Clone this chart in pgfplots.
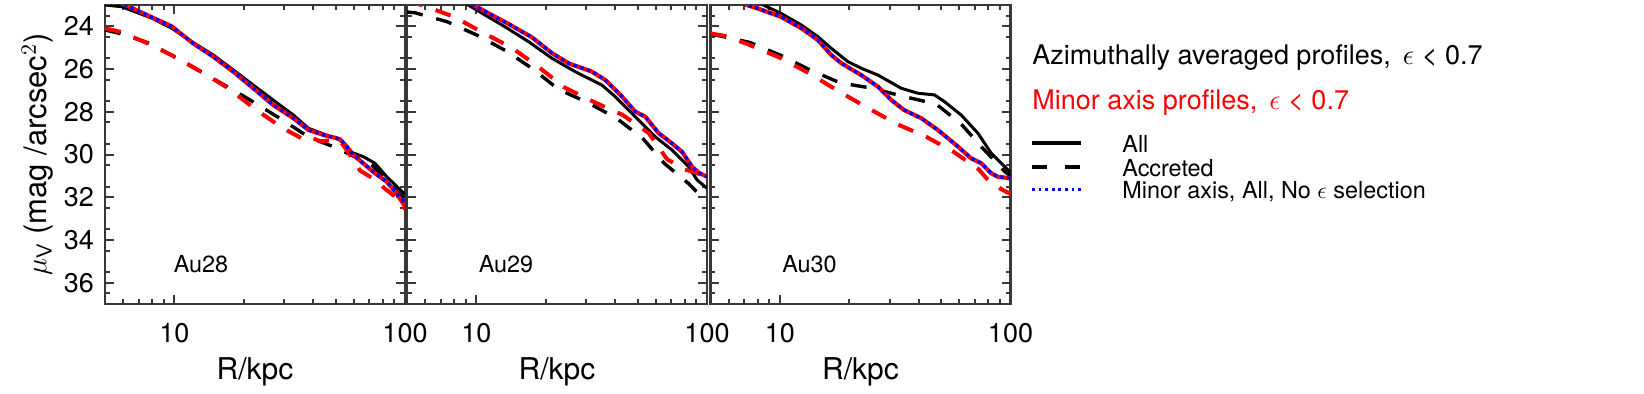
\documentclass[border=0pt]{standalone}
\usepackage{fontspec}
\setmainfont{TeX Gyre Heros}
\usepackage{pgfplots}
\pgfplotsset{compat=1.18}
\definecolor{axgray}{gray}{0.22}
\pgfplotsset{/pgf/number format/assume math mode=true}
\pgfplotsset{
  panel/.style={
    width=150pt, height=149.5pt, scale only axis,
    xmin=5, xmax=100, ymin=23, ymax=37,
    xtick={10,100}, xticklabels={10,100},
    minor xtick={6,7,8,9,20,30,40,50,60,70,80,90},
    ytick={24,26,...,36}, minor ytick={23.5,24.5,...,36.5},
    tick align=inside, tick pos=both,
    major tick length=4.5pt, minor tick length=2.5pt,
    axis line style={axgray, line width=1.1pt},
    every tick/.style={axgray, line width=1pt},
    tick label style={font=\fontsize{13.5}{16}\selectfont},
    xticklabel style={yshift=-6pt},
    yticklabel style={xshift=-2pt},
    xlabel={R/kpc},
    xlabel style={at={(axis description cs:0.5,-0.227)}, anchor=center, font=\fontsize{15}{18}\selectfont},
  },
  blks/.style={black, line width=1.5pt, mark=none},
  blkd/.style={black, line width=1.7pt, mark=none, dash pattern=on 8pt off 7pt},
  reds/.style={red, line width=2.1pt, mark=none},
  redd/.style={red, line width=2pt, mark=none, dash pattern=on 8pt off 7pt},
  blud/.style={blue, line width=1.7pt, mark=none, dash pattern=on 1.7pt off 1.8pt},
}
\begin{document}
\begin{tikzpicture}
\useasboundingbox (-52.5pt,-44.5pt) rectangle (769.5pt,152pt);

% ---------------- Au28 ----------------
\begin{axis}[xmode=log, y dir=reverse, panel, anchor=south west, at={(0pt,0pt)},
  ylabel={$\mu_{\mathsf{V}}$ (mag /arcsec$^{2}$)},
  ylabel style={at={(axis description cs:-0.225,0.5)}, anchor=center, font=\fontsize{15.5}{18}\selectfont}]
\addplot[blks] coordinates {(5.0,23.0)(5.9,23.08)(8.0,23.62)(9.73,24.09)(12.07,24.76)(14.74,25.34)(18.0,26.04)(21.98,26.75)(26.8,27.45)(32.8,28.15)(38.1,28.77)(45.7,29.09)(52.3,29.32)(57.7,29.87)(65.9,30.1)(74.1,30.41)(83.3,31.04)(98.9,31.82)(100,31.86)};
\addplot[blkd] coordinates {(5.0,24.17)(5.8,24.33)(7.84,24.8)(10.57,25.57)(13.8,26.28)(18.0,26.98)(23.1,27.68)(30.7,28.51)(36,29.0)(41.1,29.32)(48,29.6)(55.3,29.9)(63,30.2)(72.4,30.52)(82,31.1)(90,31.6)(100,32.1)};
\addplot[redd] coordinates {(5.0,24.09)(5.8,24.25)(7.39,24.72)(9.9,25.39)(13.2,26.15)(17.3,26.93)(22.36,27.87)(29.2,28.73)(35,29.2)(37.5,29.38)(40,29.25)(43,29.38)(47,29.35)(52,29.35)(56,29.8)(63.8,30.75)(72,31.1)(81.9,31.6)(90,31.95)(100,32.55)};
\addplot[reds] coordinates {(5.0,22.6)(6.0,22.95)(8.0,23.58)(9.73,24.0)(12.07,24.8)(14.74,25.42)(18.0,26.12)(21.98,26.9)(26.8,27.68)(32.8,28.3)(38.1,28.85)(45.7,29.13)(50,29.22)(52.3,29.29)(55.9,29.63)(59.7,30.02)(65.9,30.41)(74.1,30.88)(83.3,31.27)(92.0,31.82)(98.9,32.35)(100,32.5)};
\addplot[blud] coordinates {(5.0,22.6)(6.0,22.95)(8.0,23.58)(9.73,24.0)(12.07,24.8)(14.74,25.42)(18.0,26.12)(21.98,26.9)(26.8,27.68)(32.8,28.3)(38.1,28.85)(45.7,29.13)(50,29.22)(52.3,29.29)(55.9,29.63)(59.7,30.02)(65.9,30.41)(74.1,30.88)(83.3,31.27)(92.0,31.82)(98.9,32.2)(100,32.25)};
\node[anchor=base, inner sep=0pt, font=\fontsize{11.7}{14}\selectfont] at (axis description cs:0.32,0.107) {Au28};
\end{axis}

% ---------------- Au29 ----------------
\begin{axis}[xmode=log, y dir=reverse, panel, anchor=south west, at={(151pt,0pt)}, yticklabels={}]
\addplot[blks] coordinates {(8.5,22.7)(8.95,22.92)(10.9,23.47)(13.3,24.02)(16.85,24.72)(21.3,25.5)(26.8,26.12)(35.0,26.75)(40.0,27.29)(48.8,28.23)(59.7,29.17)(70.5,29.79)(83.3,30.57)(90.5,31.19)(100,31.58)};
\addplot[blkd] coordinates {(5.0,23.33)(5.4,23.36)(7.46,23.78)(10.1,24.42)(13.4,25.14)(17.5,25.98)(22.7,26.95)(30.7,27.59)(40.7,28.32)(52.6,29.24)(65.2,30.41)(83.8,31.39)(89.1,31.69)(100,32.0)};
\addplot[redd] coordinates {(5.0,22.8)(5.85,23.02)(8.0,23.55)(10.6,24.28)(14.3,25.01)(18.6,25.9)(24.0,26.85)(32.2,27.53)(43.1,28.15)(55.9,29.0)(67.1,30.22)(80,30.7)(89.6,30.85)(100,31.1)};
\addplot[reds] coordinates {(8.5,22.6)(9.41,22.92)(11.3,23.39)(13.8,23.89)(17.4,24.51)(21.3,25.26)(25.1,25.73)(31.7,26.12)(36.2,26.51)(42.8,27.29)(48.8,27.99)(54.0,28.23)(61.7,29.0)(70.5,29.48)(77.9,29.87)(86.1,30.57)(92,30.85)(100,31.04)};
\addplot[blud] coordinates {(8.5,22.6)(9.41,22.92)(11.3,23.39)(13.8,23.89)(17.4,24.51)(21.3,25.26)(25.1,25.73)(31.7,26.12)(36.2,26.51)(42.8,27.29)(48.8,27.99)(54.0,28.23)(61.7,29.0)(70.5,29.48)(77.9,29.87)(86.1,30.57)(92,30.85)(100,31.04)};
\node[anchor=base, inner sep=0pt, font=\fontsize{11.7}{14}\selectfont] at (axis description cs:0.33,0.107) {Au29};
\end{axis}

% ---------------- Au30 ----------------
\begin{axis}[xmode=log, y dir=reverse, panel, anchor=south west, at={(302.75pt,0pt)}, yticklabels={}]
\addplot[blks] coordinates {(7.8,22.75)(8.16,22.92)(10.1,23.39)(12.4,23.94)(14.6,24.48)(16.7,25.03)(19.7,25.65)(22.5,25.96)(26.6,26.28)(33.6,26.9)(39.6,27.13)(46.8,27.21)(51.8,27.53)(61.1,28.15)(72.2,29.0)(82.5,29.94)(91.1,30.41)(99,30.8)(100,30.85)};
\addplot[blkd] coordinates {(5.0,24.35)(7.39,24.75)(10.0,25.34)(13.5,26.04)(18.3,26.65)(24.9,26.89)(34.6,27.29)(47.5,27.63)(61.1,28.57)(75.1,29.66)(94.5,30.8)(100,31.0)};
\addplot[redd] coordinates {(5.0,24.33)(5.8,24.45)(7.39,24.87)(10.0,25.47)(13.4,26.2)(17.6,26.98)(23.5,27.76)(32.1,28.57)(43.1,29.17)(56.6,29.87)(72.7,30.69)(80,31.2)(91.5,31.63)(100,31.85)};
\addplot[reds] coordinates {(6.0,22.7)(6.8,22.92)(8.0,23.16)(10.1,23.55)(12.4,24.09)(14.6,24.64)(16.7,25.34)(18.5,25.73)(22.5,26.28)(26.6,26.82)(30.4,27.45)(34.6,27.92)(41.0,28.3)(48.4,28.85)(59.2,29.63)(67.5,30.18)(74.7,30.41)(82.5,30.88)(88.0,31.04)(99,31.11)(100,31.15)};
\addplot[blud] coordinates {(6.0,22.7)(6.8,22.92)(8.0,23.16)(10.1,23.55)(12.4,24.09)(14.6,24.64)(16.7,25.34)(18.5,25.73)(22.5,26.28)(26.6,26.82)(30.4,27.45)(34.6,27.92)(41.0,28.3)(48.4,28.85)(59.2,29.63)(67.5,30.18)(74.7,30.41)(82.5,30.88)(88.0,31.04)(99,31.11)(100,31.15)};
\node[anchor=base, inner sep=0pt, font=\fontsize{11.7}{14}\selectfont] at (axis description cs:0.33,0.107) {Au30};
\end{axis}

% ---------------- legend (reference pixel units) ----------------
\begin{scope}[x=0.5pt, y=-0.5pt, shift={(-52.5pt,152pt)}]
\node[anchor=base west, inner sep=0pt, font=\fontsize{13.5}{16}\selectfont] at (1032,64) {Azimuthally averaged profiles, \,$\epsilon$ < 0.7};
\node[anchor=base west, inner sep=0pt, text=red, font=\fontsize{13.5}{16}\selectfont] at (1032,109) {Minor axis profiles, \,$\epsilon$ < 0.7};
\draw[black, line width=1.6pt] (1032,143) -- (1081,143);
\draw[black, line width=1.6pt, dash pattern=on 7.5pt off 9pt] (1032,167) -- (1081,167);
\draw[blue, line width=1.5pt, dash pattern=on 1.4pt off 1.9pt] (1032,189) -- (1081,189);
\node[anchor=base west, inner sep=0pt, font=\fontsize{11.7}{14}\selectfont] at (1122,152) {All};
\node[anchor=base west, inner sep=0pt, font=\fontsize{11.7}{14}\selectfont] at (1122,176) {Accreted};
\node[anchor=base west, inner sep=0pt, font=\fontsize{11.7}{14}\selectfont] at (1122,198) {Minor axis, All, No $\epsilon$ selection};
\end{scope}
\end{tikzpicture}
\end{document}
